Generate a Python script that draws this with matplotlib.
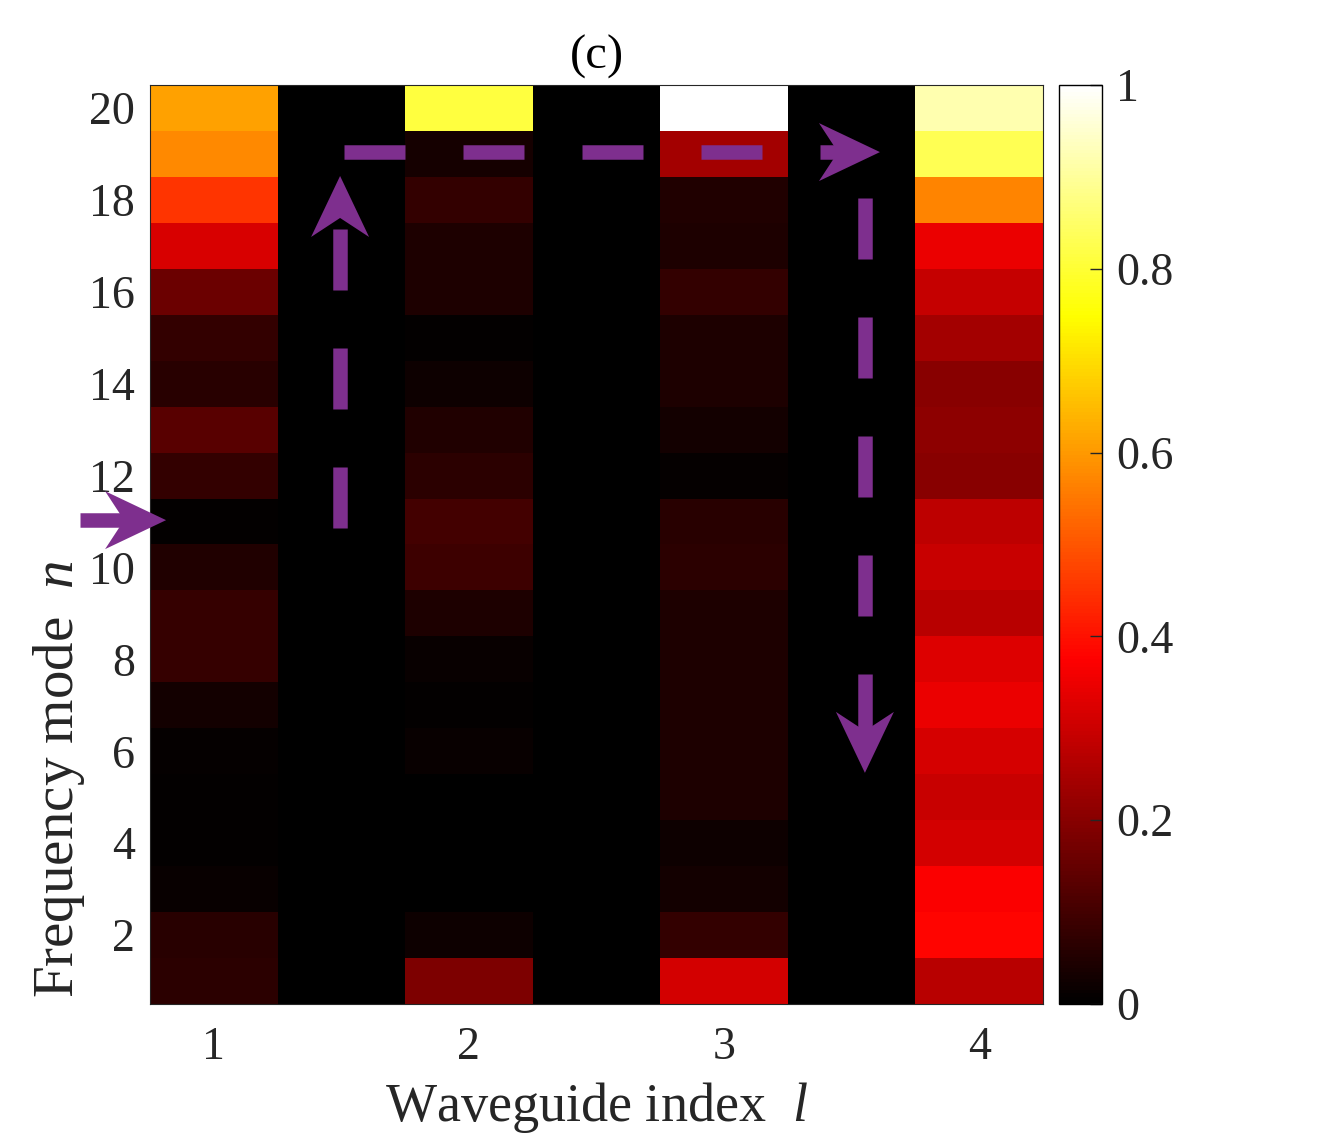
import numpy as np
import matplotlib
matplotlib.use('Agg')
import matplotlib.pyplot as plt
from matplotlib.colors import LinearSegmentedColormap
from matplotlib.patches import Polygon
from matplotlib import transforms

plt.rcParams['font.family'] = ['Liberation Serif', 'DejaVu Serif']
plt.rcParams['mathtext.fontset'] = 'custom'
plt.rcParams['mathtext.rm'] = 'Liberation Serif'
plt.rcParams['mathtext.it'] = 'Liberation Serif:italic'

# ---------------- data ----------------
modes = list(range(1, 21))                      # frequency mode n
positions = [1, 1.5, 2, 2.5, 3, 3.5, 4]         # waveguide columns (incl. auxiliary)
xtick_vals = [1, 2, 3, 4]
xtick_labels = ['1', '2', '3', '4']
ytick_vals = [2, 4, 6, 8, 10, 12, 14, 16, 18, 20]
cbar_ticks = [0, 0.2, 0.4, 0.6, 0.8, 1]
cbar_labels = ['0', '0.2', '0.4', '0.6', '0.8', '1']

# intensities, n = 1 .. 20
wg1 = [0.065, 0.06, 0.015, 0.005, 0.005, 0.01, 0.03, 0.08, 0.08, 0.05,
       0.005, 0.075, 0.13, 0.06, 0.075, 0.16, 0.32, 0.45, 0.575, 0.61]
aux12 = [0, 0, 0, 0, 0, 0, 0, 0, 0, 0, 0, 0, 0, 0, 0, 0, 0, 0, 0, 0]
wg2 = [0.185, 0.02, 0.003, 0.0, 0.0, 0.012, 0.005, 0.015, 0.045, 0.09,
       0.10, 0.065, 0.05, 0.02, 0.005, 0.045, 0.045, 0.075, 0.035, 0.81]
aux23 = [0, 0, 0, 0, 0, 0, 0, 0, 0, 0, 0, 0, 0, 0, 0, 0, 0, 0, 0, 0]
wg3 = [0.31, 0.075, 0.03, 0.02, 0.045, 0.045, 0.045, 0.045, 0.045, 0.065,
       0.06, 0.008, 0.03, 0.045, 0.045, 0.075, 0.045, 0.05, 0.24, 1.0]
aux34 = [0, 0, 0, 0, 0, 0, 0, 0, 0, 0, 0, 0, 0, 0, 0, 0, 0, 0, 0, 0]
wg4 = [0.27, 0.38, 0.37, 0.31, 0.295, 0.315, 0.345, 0.325, 0.27, 0.295,
       0.28, 0.20, 0.21, 0.20, 0.24, 0.29, 0.345, 0.57, 0.83, 0.92]

# ---------------- figure ----------------
W, H = 1332, 1134
fig = plt.figure(figsize=(W / 100, H / 100), dpi=100)
ax = fig.add_axes([150 / W, 1 - 1004 / H, 893 / W, 919 / H])
cax = fig.add_axes([1059 / W, 1 - 1004 / H, 43 / W, 919 / H])

# MATLAB-like "hot" colormap (pure black at 0)
hot = LinearSegmentedColormap('mhot', {
    'red':   [(0, 0, 0), (0.375, 1, 1), (1, 1, 1)],
    'green': [(0, 0, 0), (0.375, 0, 0), (0.75, 1, 1), (1, 1, 1)],
    'blue':  [(0, 0, 0), (0.75, 0, 0), (1, 1, 1)],
}, N=256)

Z = np.column_stack([wg1, aux12, wg2, aux23, wg3, aux34, wg4])
xe = [p - 0.25 for p in positions] + [positions[-1] + 0.25]
ye = [m - 0.5 for m in modes] + [modes[-1] + 0.5]
mesh = ax.pcolormesh(xe, ye, Z, cmap=hot, vmin=0, vmax=1, shading='flat')
ax.set_xlim(xe[0], xe[-1])
ax.set_ylim(ye[0], ye[-1])

ax.set_xticks(xtick_vals)
ax.set_xticklabels(xtick_labels)
ax.set_yticks(ytick_vals)
ax.tick_params(axis='both', length=0, labelsize=33, colors='#262626')
ax.tick_params(axis='x', pad=16)
ax.tick_params(axis='y', pad=11)
for s in ax.spines.values():
    s.set_linewidth(0.8)
    s.set_color('#262626')

ax.set_xlabel('Waveguide index  $l$', fontsize=39, color='#262626', labelpad=8)
ax.set_ylabel('Frequency mode  $n$', fontsize=41, color='#262626')
ax.yaxis.set_label_coords(-0.071, 0.245)
ax.set_title('(c)', fontsize=35, color='black', pad=12)

cb = fig.colorbar(mesh, cax=cax, ticks=cbar_ticks)
cb.ax.set_yticklabels(cbar_labels)
cb.ax.tick_params(direction='in', length=9, width=1, labelsize=33,
                  colors='#262626', pad=10)
cb.outline.set_linewidth(1)

# ---------------- arrows (annotation) ----------------
purple = '#7E2F8E'
lw_px = 14.5
lw_pt = lw_px * 72 / 100
dash = (61 / lw_px, 58 / lw_px)
head = [(0, 0), (-61, 29), (-42, 0), (-61, -29)]   # pixels, pointing +x
notch = 42

def arrow(start, tip, dashed):
    s_d = ax.transData.transform(start)
    t_d = ax.transData.transform(tip)
    v = t_d - s_d
    u = v / np.hypot(*v)
    end = ax.transData.inverted().transform(t_d - notch * u)
    ls = (0, dash) if dashed else '-'
    ax.plot([start[0], end[0]], [start[1], end[1]], color=purple,
            lw=lw_pt, linestyle=ls, solid_capstyle='butt',
            dash_capstyle='butt', clip_on=False, zorder=5)
    ang = np.degrees(np.arctan2(u[1], u[0]))
    tr = transforms.Affine2D().rotate_deg(ang) + \
        transforms.ScaledTranslation(tip[0], tip[1], ax.transData)
    ax.add_patch(Polygon(head, closed=True, facecolor=purple, edgecolor='none',
                         transform=tr, clip_on=False, zorder=6))

arrow((0.476, 11.03), (0.813, 11.03), dashed=False)
arrow((1.495, 10.86), (1.495, 18.52), dashed=True)
arrow((1.510, 19.04), (3.611, 19.04), dashed=True)
arrow((3.552, 18.04), (3.552, 5.53), dashed=True)

fig.savefig('out.png', dpi=100)
